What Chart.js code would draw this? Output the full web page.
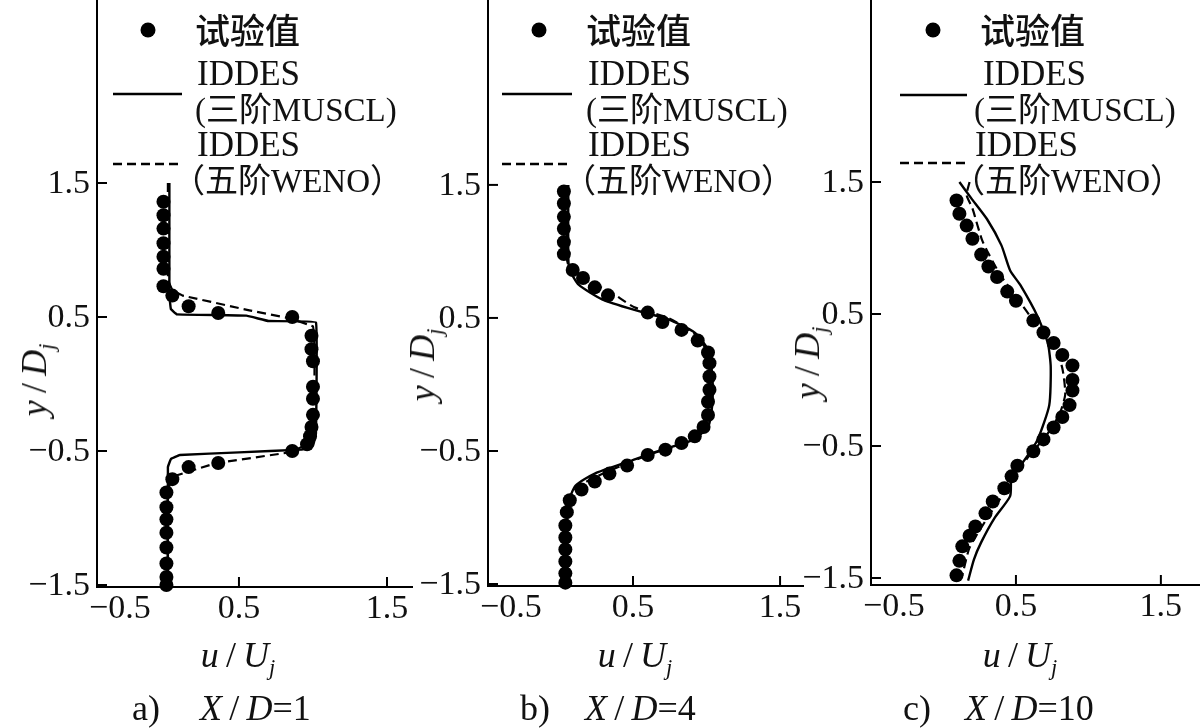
<!DOCTYPE html>
<html><head><meta charset="utf-8">
<script src="https://cdn.jsdelivr.net/npm/chart.js@4/dist/chart.umd.min.js"></script>
<style>
html,body{margin:0;padding:0;background:#fff;}
#wrap{position:relative;width:1200px;height:728px;overflow:hidden;background:#fff;}
canvas{position:absolute;left:0;top:0;}
.t{position:absolute;font-family:'Liberation Serif','Noto Sans CJK SC',serif;color:#111;white-space:nowrap;line-height:1;font-size:36px;}
.yt{transform:translate(-50%,-50%) rotate(-90deg);}
.xt{transform:translate(-50%,-50%);}
.cap{transform:translate(0,-50%);}
i{font-style:italic}
.sub{font-size:0.62em;position:relative;top:0.38em;font-style:italic;}
</style></head>
<body><div id="wrap">
<canvas id="ca" width="1200" height="728"></canvas>
<canvas id="cb" width="1200" height="728"></canvas>
<canvas id="cc" width="1200" height="728"></canvas>
</div>
<script>
// ---------- tick labels / text ----------
const yTickValues = [-1.5, -0.5, 0.5, 1.5];
const yTickLabels = ['−1.5', '−0.5', '0.5', '1.5'];
const xTickValues = [-0.5, 0.5, 1.5];
const xTickLabels = ['−0.5', '0.5', '1.5'];
const legendLabels = ['试验值', 'IDDES', '(三阶MUSCL)', 'IDDES', '（五阶WENO）'];
const panelLetters = ['a)', 'b)', 'c)'];
const panelXD = ['1', '4', '10'];

// ---------- panel a  (X/D = 1) ----------
const aExpU = [-0.01,-0.01,-0.01,-0.01,-0.01,-0.01,-0.01,0.05,0.16,0.36,0.86,0.99,0.99,1.00,1.00,1.00,1.00,0.99,0.98,0.96,0.86,0.36,0.16,0.05,0.01,0.01,0.01,0.01,0.01,0.01,0.01,0.01];
const aExpY = [1.36,1.26,1.16,1.05,0.95,0.86,0.73,0.66,0.58,0.53,0.50,0.36,0.26,0.17,-0.02,-0.11,-0.23,-0.32,-0.39,-0.45,-0.50,-0.59,-0.62,-0.71,-0.81,-0.92,-1.01,-1.11,-1.22,-1.34,-1.44,-1.50];
const aMusU = [0.03,0.03,0.04,0.08,0.55,0.70,1.02,1.02,1.00,0.92,0.50,0.10,0.04,0.02,0.02];
const aMusY = [1.50,0.66,0.56,0.52,0.51,0.47,0.46,-0.37,-0.46,-0.49,-0.51,-0.53,-0.56,-0.62,-1.50];
const aWenU = [0.02,0.02,0.05,0.12,0.57,0.84,1.00,1.01,1.01,1.00,0.84,0.35,0.06,0.02,0.02];
const aWenY = [1.50,0.78,0.70,0.66,0.55,0.49,0.43,0.30,-0.30,-0.43,-0.51,-0.59,-0.69,-0.79,-1.50];

// ---------- panel b  (X/D = 4) ----------
const bExpU = [0.03,0.03,0.03,0.03,0.03,0.03,0.09,0.16,0.24,0.33,0.60,0.70,0.83,0.94,1.01,1.02,1.02,1.02,1.01,1.01,0.98,0.92,0.83,0.72,0.60,0.46,0.34,0.24,0.15,0.07,0.05,0.04,0.04,0.04,0.04,0.04,0.04];
const bExpY = [1.45,1.36,1.26,1.17,1.07,0.98,0.86,0.80,0.73,0.67,0.54,0.47,0.41,0.33,0.24,0.16,0.06,-0.04,-0.13,-0.23,-0.32,-0.39,-0.44,-0.49,-0.53,-0.61,-0.67,-0.73,-0.79,-0.87,-0.96,-1.06,-1.15,-1.24,-1.33,-1.42,-1.49];
const bMusU = [0.06,0.06,0.07,0.13,0.29,0.51,0.74,0.92,1.01,1.04,1.04,1.01,0.90,0.70,0.47,0.24,0.11,0.06,0.05,0.05];
const bMusY = [1.50,0.95,0.86,0.75,0.64,0.56,0.49,0.39,0.26,0.06,-0.14,-0.32,-0.42,-0.49,-0.58,-0.67,-0.76,-0.89,-1.15,-1.50];
const bWenU = [0.05,0.05,0.06,0.17,0.34,0.51,0.74,0.94,1.02,1.03,1.02,0.97,0.83,0.63,0.40,0.20,0.09,0.05,0.04];
const bWenY = [1.50,0.97,0.90,0.79,0.70,0.58,0.50,0.36,0.20,-0.02,-0.24,-0.36,-0.45,-0.52,-0.62,-0.72,-0.81,-0.97,-1.50];

// ---------- panel c  (X/D = 10) ----------
const cExpU = [0.09,0.11,0.16,0.20,0.26,0.31,0.37,0.44,0.50,0.62,0.69,0.76,0.82,0.89,0.89,0.89,0.87,0.82,0.76,0.69,0.62,0.51,0.47,0.42,0.34,0.29,0.22,0.18,0.13,0.11,0.09];
const cExpY = [1.36,1.26,1.17,1.07,0.95,0.86,0.78,0.67,0.60,0.45,0.36,0.28,0.19,0.11,0.00,-0.08,-0.19,-0.28,-0.36,-0.45,-0.54,-0.65,-0.73,-0.82,-0.92,-1.01,-1.11,-1.18,-1.26,-1.37,-1.48];
const cMusU = [0.11,0.19,0.30,0.40,0.46,0.53,0.65,0.72,0.74,0.73,0.65,0.55,0.47,0.46,0.35,0.26,0.21,0.17];
const cMusY = [1.50,1.38,1.22,1.02,0.83,0.72,0.48,0.28,0.10,-0.19,-0.45,-0.62,-0.73,-0.88,-1.05,-1.23,-1.36,-1.52];
const cWenU = [0.18,0.16,0.20,0.27,0.39,0.51,0.64,0.76,0.82,0.84,0.80,0.71,0.58,0.44,0.30,0.18,0.13];
const cWenY = [1.50,1.40,1.30,1.05,0.80,0.62,0.42,0.27,0.09,-0.11,-0.26,-0.42,-0.59,-0.82,-1.05,-1.27,-1.48];

function pts(u, y) { return u.map((v, i) => ({ x: v, y: y[i] })); }

const panels = [
  { id:'ca', exp:[aExpU,aExpY], mus:[aMusU,aMusY], wen:[aWenU,aWenY], tension:0.05,
    left:97, right:412, top:0, bottom:587, xmin:-0.459, xmax:1.669, ymin:-1.515, ymax:2.866,
    leg:{dot:[148,30], l1:113, l2:182, sy:94, dy:164, t0:195, t1:197, t2:195, t3:197, t4:172},
    yTitle:[34,380], xTitle:[238,655], cap:[132,200] },
  { id:'cb', exp:[bExpU,bExpY], mus:[bMusU,bMusY], wen:[bWenU,bWenY], tension:0.2,
    left:488, right:803, top:0, bottom:586, xmin:-0.486, xmax:1.656, ymin:-1.515, ymax:2.89,
    leg:{dot:[539,30], l1:502, l2:572, sy:94, dy:164, t0:586, t1:588, t2:586, t3:588, t4:563},
    yTitle:[422,365], xTitle:[635,655], cap:[520,585] },
  { id:'cc', exp:[cExpU,cExpY], mus:[cMusU,cMusY], wen:[cWenU,cWenY], tension:0.2,
    left:871, right:1200, top:0, bottom:585, xmin:-0.5, xmax:1.77, ymin:-1.553, ymax:2.879,
    leg:{dot:[933,30], l1:900, l2:967, sy:95, dy:163, t0:980, t1:983, t2:974, t3:975, t4:952},
    yTitle:[807,363], xTitle:[1020,655], cap:[903,965] }
];

const deco = {
  id: 'deco',
  afterDraw(chart, args, opts) {
    const P = opts.panel;
    const { ctx, chartArea: a, scales: { x, y } } = chart;
    ctx.save();
    ctx.strokeStyle = '#000'; ctx.fillStyle = '#111'; ctx.lineWidth = 2;
    ctx.font = '34px "Liberation Serif", serif';
    // y ticks (inward) and labels
    yTickValues.forEach((v, i) => {
      const py = y.getPixelForValue(v);
      ctx.beginPath(); ctx.moveTo(a.left, py); ctx.lineTo(a.left + 10, py); ctx.stroke();
      ctx.textAlign = 'right'; ctx.textBaseline = 'middle';
      ctx.fillText(yTickLabels[i], a.left - 7, py + 1);
    });
    // x ticks (inward) and labels
    xTickValues.forEach((v, i) => {
      const px = x.getPixelForValue(v);
      ctx.textBaseline = 'top';
      if (px > a.left + 3) {
        ctx.beginPath(); ctx.moveTo(px, a.bottom); ctx.lineTo(px, a.bottom - 10); ctx.stroke();
        ctx.textAlign = 'center';
        ctx.fillText(xTickLabels[i], px, a.bottom + 5);
      } else {
        ctx.textAlign = 'left';
        ctx.fillText(xTickLabels[i], a.left - 8, a.bottom + 5);
      }
    });
    // legend
    const L = P.leg;
    ctx.beginPath(); ctx.arc(L.dot[0], L.dot[1], 7.5, 0, Math.PI * 2); ctx.fillStyle = '#000'; ctx.fill();
    ctx.lineWidth = 2.4;
    ctx.beginPath(); ctx.moveTo(L.l1, L.sy); ctx.lineTo(L.l2, L.sy); ctx.stroke();
    ctx.setLineDash([9, 5]);
    ctx.beginPath(); ctx.moveTo(L.l1, L.dy); ctx.lineTo(L.l2, L.dy); ctx.stroke();
    ctx.setLineDash([]);
    ctx.fillStyle = '#111';
    ctx.textAlign = 'left'; ctx.textBaseline = 'middle';
    ctx.font = '500 35px "Noto Sans CJK SC", sans-serif';
    ctx.fillText(legendLabels[0], L.t0, 31);
    ctx.font = '35px "Liberation Serif", "Noto Sans CJK SC", serif';
    ctx.fillText(legendLabels[1], L.t1, 76);
    ctx.font = '33px "Liberation Serif", "Noto Sans CJK SC", serif';
    ctx.fillText(legendLabels[2], L.t2, 112);
    ctx.font = '35px "Liberation Serif", "Noto Sans CJK SC", serif';
    ctx.fillText(legendLabels[3], L.t3, 147);
    ctx.font = '33px "Liberation Serif", "Noto Sans CJK SC", serif';
    ctx.fillText(legendLabels[4], L.t4, 183);
    ctx.restore();
  }
};

const wrap = document.getElementById('wrap');
panels.forEach((P, k) => {
  new Chart(document.getElementById(P.id), {
    type: 'scatter',
    data: { datasets: [
      { label: legendLabels[0], data: pts(P.exp[0], P.exp[1]), showLine: false, pointRadius: 7,
        pointBackgroundColor: '#000', pointBorderWidth: 0, clip: false, order: 0 },
      { label: legendLabels[1] + legendLabels[2], data: pts(P.mus[0], P.mus[1]), showLine: true, pointRadius: 0,
        borderColor: '#000', borderWidth: 2.4, tension: P.tension, clip: false, order: 1 },
      { label: legendLabels[3] + legendLabels[4], data: pts(P.wen[0], P.wen[1]), showLine: true, pointRadius: 0,
        borderColor: '#000', borderWidth: 2.2, borderDash: [9, 5], tension: P.tension, clip: false, order: 2 }
    ]},
    options: {
      responsive: false, animation: false, devicePixelRatio: 1,
      layout: { autoPadding: false, padding: { left: P.left, top: P.top, right: 1200 - P.right, bottom: 728 - P.bottom } },
      plugins: { legend: { display: false }, tooltip: { enabled: false }, deco: { panel: P } },
      scales: {
        x: { type: 'linear', min: P.xmin, max: P.xmax, grid: { display: false, drawTicks: false },
             ticks: { display: false }, border: { display: true, color: '#000', width: 2 } },
        y: { type: 'linear', min: P.ymin, max: P.ymax, grid: { display: false, drawTicks: false },
             ticks: { display: false }, border: { display: true, color: '#000', width: 2 } }
      }
    },
    plugins: [deco]
  });
  // axis titles and caption as real text
  const yt = document.createElement('div');
  yt.className = 't yt'; yt.style.left = P.yTitle[0] + 'px'; yt.style.top = P.yTitle[1] + 'px';
  yt.innerHTML = '<i>y</i>&thinsp;/&thinsp;<i>D</i><span class="sub">j</span>';
  wrap.appendChild(yt);
  const xt = document.createElement('div');
  xt.className = 't xt'; xt.style.left = P.xTitle[0] + 'px'; xt.style.top = P.xTitle[1] + 'px';
  xt.innerHTML = '<i>u</i>&thinsp;/&thinsp;<i>U</i><span class="sub">j</span>';
  wrap.appendChild(xt);
  const c1 = document.createElement('div');
  c1.className = 't cap'; c1.style.left = P.cap[0] + 'px'; c1.style.top = '708px';
  c1.textContent = panelLetters[k];
  wrap.appendChild(c1);
  const c2 = document.createElement('div');
  c2.className = 't cap'; c2.style.left = P.cap[1] + 'px'; c2.style.top = '708px';
  c2.innerHTML = '<i>X</i>&thinsp;/&thinsp;<i>D</i>=' + panelXD[k];
  wrap.appendChild(c2);
});
</script>
</body></html>
